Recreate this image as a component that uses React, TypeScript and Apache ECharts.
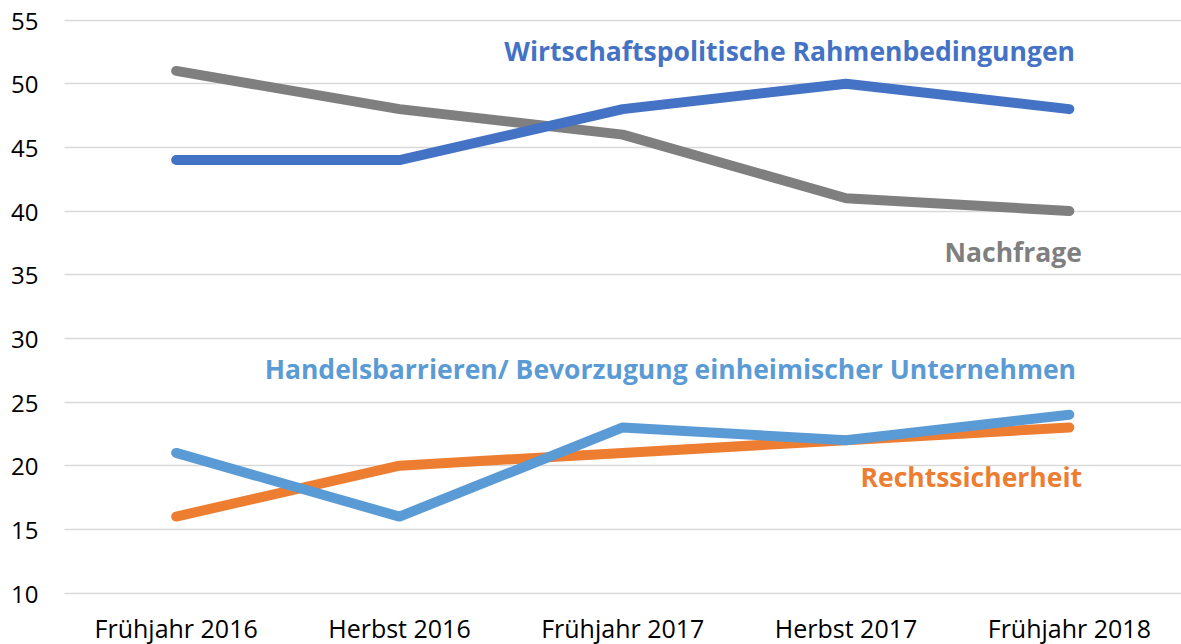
import React, { useEffect, useRef } from "react";
import * as echarts from "echarts";

const categories = ["Frühjahr 2016", "Herbst 2016", "Frühjahr 2017", "Herbst 2017", "Frühjahr 2018"];
const rahmen = [44, 44, 48, 50, 48];
const nachfrage = [51, 48, 46, 41, 40];
const handel = [21, 16, 23, 22, 24];
const recht = [16, 20, 21, 22, 23];

const names = {
  rahmen: "Wirtschaftspolitische Rahmenbedingungen",
  nachfrage: "Nachfrage",
  handel: "Handelsbarrieren/ Bevorzugung einheimischer Unternehmen",
  recht: "Rechtssicherheit",
};

const colors = { rahmen: "#4472C4", nachfrage: "#7F7F7F", handel: "#5B9BD5", recht: "#ED7D31" };

const FONT = "'Open Sans', 'Noto Sans', sans-serif";

export default function App() {
  const ref = useRef<HTMLDivElement>(null);
  useEffect(() => {
    const chart = echarts.init(ref.current!, null, { renderer: "svg" });
    const line = (name: string, data: number[], color: string, z: number) => ({
      name,
      type: "line",
      data,
      z,
      symbol: "none",
      lineStyle: { color, width: 10, cap: "round", join: "round" },
      itemStyle: { color },
    });
    const label = (text: string, color: string, right: number, y: number) => ({
      type: "text",
      right,
      top: y - 15,
      style: { text, fill: color, font: `bold 26.5px ${FONT}` },
    });
    chart.setOption({
      animation: false,
      grid: { left: 64.5, right: -8.5, top: 20, bottom: 51 },
      xAxis: {
        type: "category",
        data: categories,
        boundaryGap: true,
        axisLine: { show: false },
        axisTick: { show: false },
        axisLabel: { color: "#000", fontSize: 25, fontFamily: FONT, margin: 22 },
      },
      yAxis: {
        type: "value",
        min: 10,
        max: 55,
        interval: 5,
        axisLine: { show: false },
        axisTick: { show: false },
        axisLabel: { color: "#000", fontSize: 24, fontFamily: FONT, margin: 26 },
        splitLine: { lineStyle: { color: "#D9D9D9", width: 1.3 } },
      },
      series: [
        line(names.recht, recht, colors.recht, 2),
        line(names.handel, handel, colors.handel, 3),
        line(names.nachfrage, nachfrage, colors.nachfrage, 2),
        line(names.rahmen, rahmen, colors.rahmen, 3),
      ],
      graphic: [
        label(names.rahmen, colors.rahmen, 1181 - 1075, 52),
        label(names.nachfrage, colors.nachfrage, 1181 - 1082, 253),
        label(names.handel, colors.handel, 1181 - 1076, 370),
        label(names.recht, colors.recht, 1181 - 1082, 478),
      ],
    });
    return () => chart.dispose();
  }, []);
  return (
    <div
      ref={ref}
      style={{ position: "fixed", left: 0, top: 0, width: 1181, height: 644, background: "#fff" }}
    />
  );
}
